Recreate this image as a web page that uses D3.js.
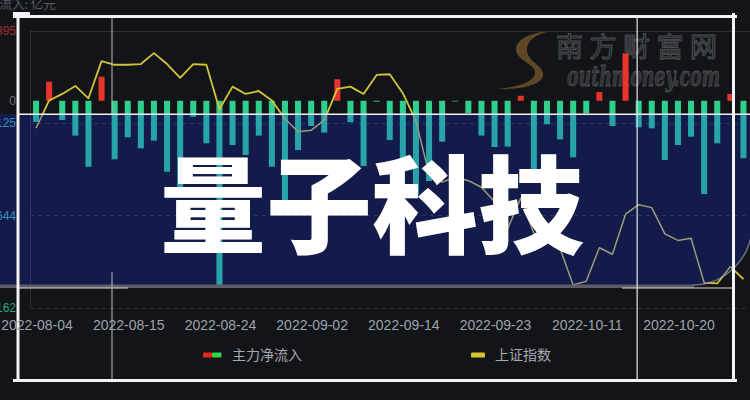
<!DOCTYPE html>
<html><head><meta charset="utf-8">
<script src="https://cdn.jsdelivr.net/npm/d3@7"></script>
<style>html,body{margin:0;padding:0;background:#121418;overflow:hidden}</style>
</head><body><svg id="c" width="750" height="400"></svg>
<script>
// ---------------- data ----------------
const dates = ["2022-08-04","2022-08-05","2022-08-08","2022-08-09","2022-08-10","2022-08-11","2022-08-12",
"2022-08-15","2022-08-16","2022-08-17","2022-08-18","2022-08-19","2022-08-22","2022-08-23",
"2022-08-24","2022-08-25","2022-08-26","2022-08-29","2022-08-30","2022-08-31","2022-09-01",
"2022-09-02","2022-09-05","2022-09-06","2022-09-07","2022-09-08","2022-09-09","2022-09-13",
"2022-09-14","2022-09-15","2022-09-16","2022-09-19","2022-09-20","2022-09-21","2022-09-22",
"2022-09-23","2022-09-26","2022-09-27","2022-09-28","2022-09-29","2022-09-30","2022-10-10",
"2022-10-11","2022-10-12","2022-10-13","2022-10-14","2022-10-17","2022-10-18","2022-10-19",
"2022-10-20","2022-10-21","2022-10-24","2022-10-25","2022-10-26","2022-10-27"];
const inflow = [-119,107,-108,-196,-371,135,-329,-205,-267,-224,
-399,-530,-90,-239,-1036,-249,-305,-196,-371,-633,
-277,-142,-179,121,-121,-367,-5,-221,-389,-530,
-451,-230,-4,-69,-196,-260,-258,28,-462,-132,
-217,-318,-70,49,-142,267,-149,-155,-333,-249,
-202,-524,-239,38,-323];
const shIndex = [3189,3227,3236,3247,3230,3281,3276,3276,3277,3292,
3277,3258,3277,3276,3215,3246,3236,3240,3227,3202,
3184,3186,3200,3243,3246,3236,3262,3263,3237,3199,
3126,3115,3122,3117,3108,3088,3051,3093,3045,3041,
3024,2974,2979,3025,3016,3071,3084,3080,3044,3035,
3038,2977,2976,2999,2982];
const leftTicks = [395, -125, -644, -1162];
const rightDomain = [2943, 3323];
const xTickDates = ["2022-08-04","2022-08-15","2022-08-24","2022-09-02","2022-09-14","2022-09-23","2022-10-11","2022-10-20"];
const legendNames = ["主力净流入","上证指数"];
const unitLabel = "净流入: 亿元";
const title = "量子科技";
const wmCn = "南方财富网";
const wmEn = "outhmoney.com";

// ---------------- setup ----------------
const svg = d3.select("#c");
const W = 750, H = 400;
svg.append("rect").attr("width",W).attr("height",H).attr("fill","#121418");

const x = d3.scaleBand().domain(dates).range([29.5,750]).paddingInner(0.54).paddingOuter(0.27);
const yL = d3.scaleLinear().domain([leftTicks[3], leftTicks[0]]).range([307.5, 30.5]);
const yR = d3.scaleLinear().domain(rightDomain).range([307.5, 30.5]);

// unit label (cut at left, as in the source)
svg.append("text").attr("x",-13).attr("y",9).attr("font-family","'Noto Sans CJK SC',sans-serif")
  .attr("font-size",12.5).attr("fill","#575b63").text(unitLabel);

// watermark: brush "S" logo as a shape, then the site name
const wm = svg.append("g");
wm.append("path")
  .attr("d","M568,32 C548,28 526,36 527,51 C528,62 545,66 543,76 C541,85 520,90 497,89 C519,87 533,82 535,74 C537,64 516,61 516,49 C516,36 543,28 568,32 Z")
  .attr("fill","#5f4726");
wm.append("text").attr("x",556).attr("y",57).attr("font-family","'Noto Sans CJK SC',sans-serif")
  .attr("font-size",27).attr("letter-spacing",6.5).attr("fill","#17191d").attr("stroke","#46494f")
  .attr("stroke-width",1.2).text(wmCn);
wm.append("text").attr("x",567).attr("y",86).attr("font-family","'DejaVu Serif',serif")
  .attr("font-style","italic").attr("font-weight","bold").attr("font-size",27)
  .attr("textLength",153).attr("lengthAdjust","spacingAndGlyphs")
  .attr("fill","#303236").attr("stroke","#4d4f54").attr("stroke-width",0.8).text(wmEn);

// ---------------- chart drawing ----------------
function drawChart(g, pal){
  g.selectAll("line.grid").data(leftTicks).join("line").attr("class","grid")
    .attr("x1",30).attr("x2",750)
    .attr("y1",d=>Math.round(yL(d))+0.5).attr("y2",d=>Math.round(yL(d))+0.5)
    .attr("stroke",pal.grid).attr("stroke-width",1)
    .attr("stroke-dasharray",(d,i)=>i===0?null:"4,4");
  g.append("line").attr("x1",30.5).attr("x2",30.5).attr("y1",yL(leftTicks[0])).attr("y2",yL(leftTicks[3]))
    .attr("stroke",pal.grid);
  const labs = leftTicks.concat([0]);
  g.selectAll("text.yl").data(labs).join("text").attr("class","yl")
    .attr("x",16).attr("y",d=>yL(d)).attr("dy","0.35em").attr("text-anchor","end")
    .attr("font-family","'Liberation Sans',Arial,sans-serif").attr("font-size",12)
    .attr("fill",d=>d>0?pal.pos:(d<0?pal.neg:pal.zero)).text(d=>d);
  g.selectAll("rect.bar").data(inflow).join("rect").attr("class","bar")
    .attr("x",(d,i)=>x(dates[i])).attr("width",x.bandwidth())
    .attr("y",d=>yL(Math.max(0,d))).attr("height",d=>Math.abs(yL(d)-yL(0)))
    .attr("fill",d=>d>=0?pal.up:pal.down);
  const line = d3.line().x((d,i)=>x(dates[i])+x.bandwidth()/2).y(d=>yR(d));
  g.append("path").datum(shIndex).attr("d",line).attr("fill","none")
    .attr("stroke",pal.line).attr("stroke-width",pal.lw).attr("stroke-linejoin","round");
}

drawChart(svg.append("g"), {grid:"#2c2f36", pos:"#a3302c", neg:"#2aa77c", zero:"#6a6e77",
  up:"#e8342a", down:"#31cf8e", line:"#d2c43a", lw:1.8});

// band overlay
const bandPath = "M-10,114 H752 V225 A60,60 0 0 1 692,285 H-10 Z";
const defs = svg.append("defs");
defs.append("clipPath").attr("id","band").append("path").attr("d",bandPath);
const bg = svg.append("g").attr("clip-path","url(#band)");
bg.append("path").attr("d",bandPath).attr("fill","#121b4a");
drawChart(bg, {grid:"#2a3566", pos:"#a3302c", neg:"#3b8cc0", zero:"#6a6e77",
  up:"#e8342a", down:"#27a3a9", line:"#9c9c78", lw:1.5});
svg.append("path").attr("d","M752,225 A60,60 0 0 1 692,285").attr("fill","none")
  .attr("stroke","rgba(190,190,200,0.55)").attr("stroke-width",1.5);

// strips & decorative lines
svg.append("rect").attr("x",0).attr("y",284.5).attr("width",694).attr("height",3.5).attr("fill","#5a5d65");
svg.append("rect").attr("x",18).attr("y",113.5).attr("width",732).attr("height",1.5).attr("fill","#f2f2f2");
svg.append("rect").attr("x",18).attr("y",287.5).attr("width",110).attr("height",1).attr("fill","#dcdcdc");
svg.append("rect").attr("x",622).attr("y",287.5).attr("width",111).attr("height",1).attr("fill","#dcdcdc");
svg.append("rect").attr("x",111.5).attr("y",17).attr("width",1).attr("height",97).attr("fill","#b9bcc2");
svg.append("rect").attr("x",111.5).attr("y",272).attr("width",1).attr("height",109).attr("fill","#b9bcc2");
svg.append("rect").attr("x",636.5).attr("y",17).attr("width",1.3).attr("height",364).attr("fill","#d8d8dc");

// white frame
const fr = svg.append("g").attr("fill","#f4f4f4");
fr.append("rect").attr("x",13).attr("y",15).attr("width",724).attr("height",3);
fr.append("rect").attr("x",13).attr("y",12).attr("width",17).attr("height",6);
fr.append("rect").attr("x",16.5).attr("y",13).attr("width",3).attr("height",369);
fr.append("rect").attr("x",732).attr("y",13).attr("width",3).attr("height",369);
fr.append("rect").attr("x",13).attr("y",379).attr("width",724).attr("height",3);

// title
svg.append("text").attr("x",372).attr("y",199).attr("text-anchor","middle").attr("dominant-baseline","central")
  .attr("font-family","'Noto Sans CJK SC',sans-serif").attr("font-weight",900).attr("font-size",106)
  .attr("fill","#ffffff").text(title);

// x axis labels
svg.selectAll("text.xl").data(xTickDates).join("text").attr("class","xl")
  .attr("x",d=>x(d)+x.bandwidth()/2+1).attr("y",325).attr("dy","0.35em").attr("text-anchor","middle")
  .attr("font-family","'Liberation Sans',Arial,sans-serif").attr("font-size",14).attr("fill","#9fa3ad")
  .text(d=>d);

// legend
const lg = svg.append("g");
lg.append("rect").attr("x",203).attr("y",352.5).attr("width",9).attr("height",5).attr("rx",1).attr("fill","#e3281e");
lg.append("rect").attr("x",212).attr("y",352.5).attr("width",9.5).attr("height",5).attr("rx",1).attr("fill","#2ed84a");
lg.append("text").attr("x",232).attr("y",355).attr("dy","0.35em").attr("font-family","'Noto Sans CJK SC',sans-serif")
  .attr("font-size",14).attr("fill","#a6a9b1").text(legendNames[0]);
lg.append("rect").attr("x",471).attr("y",352.5).attr("width",14).attr("height",5).attr("rx",1).attr("fill","#d6c42c");
lg.append("text").attr("x",495).attr("y",355).attr("dy","0.35em").attr("font-family","'Noto Sans CJK SC',sans-serif")
  .attr("font-size",14).attr("fill","#a6a9b1").text(legendNames[1]);
</script></body></html>
